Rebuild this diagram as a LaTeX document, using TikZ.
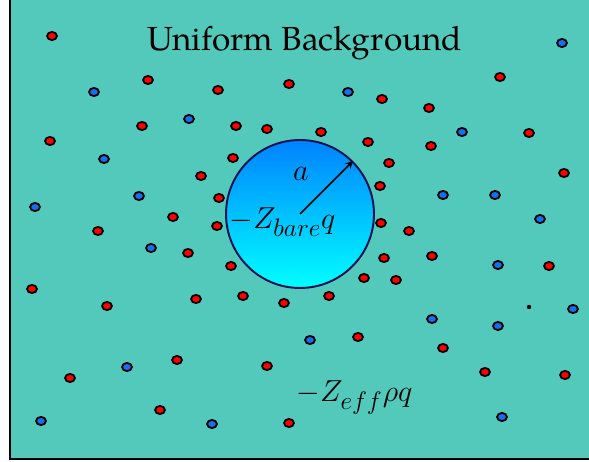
\documentclass[tikz,border=0pt]{standalone}
\usepackage{fontspec}
\newfontfamily\pagella{texgyrepagella-regular.otf}
\definecolor{bgteal}{RGB}{83,201,187}
\definecolor{ionred}{RGB}{255,0,0}
\definecolor{ionblue}{RGB}{25,110,235}
\definecolor{ballrim}{RGB}{10,16,80}
\definecolor{balltop}{RGB}{0,130,255}
\definecolor{ballbot}{RGB}{0,255,255}

\begin{document}
\begin{tikzpicture}[>=stealth,x=0.02cm,y=-0.02cm,inner sep=0pt,
  ion/.style={draw=black,line width=1pt},
  ball/.style={circle,draw=ballrim,line width=1.1pt,minimum size=2.96cm,top color=balltop,bottom color=ballbot},
  lbl/.style={anchor=base,font=\fontsize{19}{22}\selectfont}]
  \clip(0,0)rectangle(589,462);
  \fill[white](0,0)rectangle(589,462);
  \draw[fill=bgteal,line width=1.1pt](10,-0.5)rectangle(600,459);
  \node[lbl,font=\fontsize{19}{22}\pagella](title)at(305,51){Uniform Background};
  % counter ions
  \foreach \x/\y in {52/36,148/80,218/90,289/84,500/77,382/99,429/108,142/126,236/126,267/129,321/132,368/142,529/133,431/146,50/141,233/158,389/163,564/173,201/176,380/186,219/198,173/217,381/223,217/226,98/231,409/231,188/253,384/258,432/256,549/266,231/266,364/278,396/280,32/289,243/296,329/296,196/299,284/303,107/306,358/337,443/348,177/360,267/366,485/372,565/375,70/378,160/410,289/423}
  {
    \draw[ion,fill=ionred](\x,\y)ellipse(4.9 and 4.1);
  }
  % co ions
  \foreach \x/\y in {562/43,94/92,348/92,189/119,462/132,104/159,443/195,495/195,139/196,35/207,540/219,151/248,498/265,573/309,432/319,498/326,310/340,127/367,41/421,212/424,502/417}
  {
    \draw[ion,fill=ionblue](\x,\y)ellipse(4.9 and 4.1);
  }
  \fill(529,307)circle(2.2);
  % macroion
  \node[ball](ball)at(300,214){};
  \draw[->,line width=0.9pt](ball.center)--(ball.45);
  \node[lbl](rad)at(301,181){$a$};
  \node[lbl](bare)at(282.5,229){$-Z_{bare}q$};
  \node[lbl](eff)at(354.5,402){$-Z_{eff}\rho q$};
\end{tikzpicture}
\end{document}
